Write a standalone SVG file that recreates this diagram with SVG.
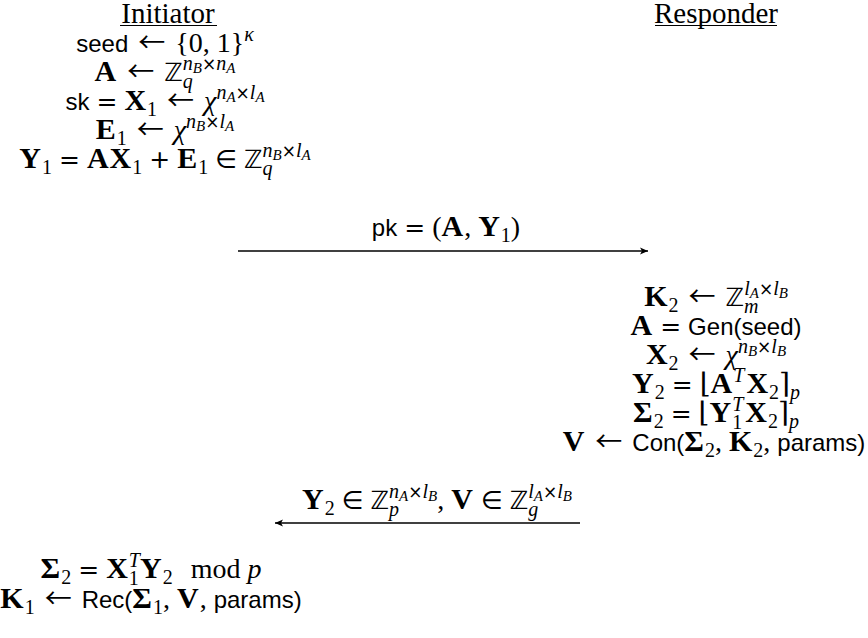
<svg xmlns="http://www.w3.org/2000/svg" width="868" height="638" viewBox="0 0 868 638">
<defs>
<style>
.t{font-family:"Liberation Serif","DejaVu Serif",serif;font-size:28px;fill:#000;text-anchor:middle}
.h{font-size:29px}
.b{font-weight:bold;font-size:30px;letter-spacing:1px}
.i{font-style:italic}
.s{font-family:"Liberation Sans","DejaVu Sans",sans-serif;font-size:24px}
.o{font-family:"DejaVu Sans",sans-serif;font-size:25px}
.ar{font-family:"Noto Sans CJK SC","DejaVu Sans",sans-serif;font-size:27px;letter-spacing:3px}
.x{font-family:"DejaVu Sans",sans-serif;font-size:17px}
.sc{font-size:20px}
.ss{font-size:15px}
.ul{stroke:#000;stroke-width:1.2}
.conn{stroke:#000;stroke-width:1.3;fill:none}
</style>
<marker id="ah" markerUnits="userSpaceOnUse" markerWidth="12" markerHeight="10" viewBox="-10 -5 12 10" refX="0" refY="0" orient="auto-start-reverse">
<path d="M0,0 L-8,-3.6 L-6,0 L-8,3.6 Z" fill="#000"/>
</marker>
</defs>
<rect width="868" height="638" fill="#fff"/>

<g id="initiator-header">
<text class="t h" x="168" y="22.5">Initiator</text>
<line class="ul" x1="120" y1="25.5" x2="217" y2="25.5"/>
</g>

<g id="responder-header">
<text class="t h" x="716" y="22.5">Responder</text>
<line class="ul" x1="655" y1="25.5" x2="777" y2="25.5"/>
</g>

<g id="initiator-keygen">
<text class="t" x="165" y="52"><tspan class="s">seed</tspan> <tspan class="ar" dx="3">←</tspan> {0, 1}<tspan class="i sc" dy="-11">κ</tspan></text>
<text class="t" x="165" y="81"><tspan class="b">A</tspan> <tspan class="ar" dx="3">←</tspan> <tspan class="o">ℤ</tspan><tspan class="i sc" dy="7">q</tspan><tspan class="i sc" dx="-10" dy="-18">n</tspan><tspan class="i ss" dy="3">B</tspan><tspan class="x" dy="-3">×</tspan><tspan class="i sc">n</tspan><tspan class="i ss" dy="3">A</tspan></text>
<text class="t" x="165" y="110"><tspan class="s">sk</tspan> <tspan class="o">=</tspan> <tspan class="b">X</tspan><tspan class="sc" dy="6">1</tspan><tspan dy="-6"> </tspan><tspan class="ar" dx="3">←</tspan> <tspan class="i">χ</tspan><tspan class="i sc" dy="-11">n</tspan><tspan class="i ss" dy="3">A</tspan><tspan class="x" dy="-3">×</tspan><tspan class="i sc">l</tspan><tspan class="i ss" dy="3">A</tspan></text>
<text class="t" x="165" y="139"><tspan class="b">E</tspan><tspan class="sc" dy="6">1</tspan><tspan dy="-6"> </tspan><tspan class="ar" dx="3">←</tspan> <tspan class="i">χ</tspan><tspan class="i sc" dy="-11">n</tspan><tspan class="i ss" dy="3">B</tspan><tspan class="x" dy="-3">×</tspan><tspan class="i sc">l</tspan><tspan class="i ss" dy="3">A</tspan></text>
<text class="t" x="165" y="168"><tspan class="b">Y</tspan><tspan class="sc" dy="6">1</tspan><tspan dy="-6"> </tspan><tspan class="o">=</tspan> <tspan class="b">AX</tspan><tspan class="sc" dy="6">1</tspan><tspan dy="-6"> </tspan><tspan class="o">+</tspan> <tspan class="b">E</tspan><tspan class="sc" dy="6">1</tspan><tspan dy="-6"> </tspan><tspan class="o">∈</tspan> <tspan class="o">ℤ</tspan><tspan class="i sc" dy="7">q</tspan><tspan class="i sc" dx="-10" dy="-18">n</tspan><tspan class="i ss" dy="3">B</tspan><tspan class="x" dy="-3">×</tspan><tspan class="i sc">l</tspan><tspan class="i ss" dy="3">A</tspan></text>
</g>

<g id="msg1-label">
<text class="t" x="446" y="236"><tspan class="s">pk</tspan> <tspan class="o">=</tspan> (<tspan class="b">A</tspan>, <tspan class="b">Y</tspan><tspan class="sc" dy="6">1</tspan><tspan dy="-6">)</tspan></text>
</g>

<g id="responder-compute">
<text class="t" x="716" y="306"><tspan class="b">K</tspan><tspan class="sc" dy="6">2</tspan><tspan dy="-6"> </tspan><tspan class="ar" dx="3">←</tspan> <tspan class="o">ℤ</tspan><tspan class="i sc" dy="7">m</tspan><tspan class="i sc" dx="-14.4" dy="-18">l</tspan><tspan class="i ss" dy="3">A</tspan><tspan class="x" dy="-3">×</tspan><tspan class="i sc">l</tspan><tspan class="i ss" dy="3">B</tspan></text>
<text class="t" x="716" y="335"><tspan class="b">A</tspan> <tspan class="o">=</tspan> <tspan class="s">Gen(seed)</tspan></text>
<text class="t" x="716" y="364"><tspan class="b">X</tspan><tspan class="sc" dy="6">2</tspan><tspan dy="-6"> </tspan><tspan class="ar" dx="3">←</tspan> <tspan class="i">χ</tspan><tspan class="i sc" dy="-11">n</tspan><tspan class="i ss" dy="3">B</tspan><tspan class="x" dy="-3">×</tspan><tspan class="i sc">l</tspan><tspan class="i ss" dy="3">B</tspan></text>
<text class="t" x="716" y="393"><tspan class="b">Y</tspan><tspan class="sc" dy="6">2</tspan><tspan dy="-6"> </tspan><tspan class="o">=</tspan> ⌊<tspan class="b">A</tspan><tspan class="i sc" dy="-11">T</tspan><tspan class="b" dx="2" dy="11">X</tspan><tspan class="sc" dy="6">2</tspan><tspan dy="-6">⌉</tspan><tspan class="i sc" dy="6">p</tspan></text>
<text class="t" x="716" y="422"><tspan class="b">Σ</tspan><tspan class="sc" dy="6">2</tspan><tspan dy="-6"> </tspan><tspan class="o">=</tspan> ⌊<tspan class="b">Y</tspan><tspan class="sc" dy="7">1</tspan><tspan class="i sc" dx="-10" dy="-18">T</tspan><tspan class="b" dx="2" dy="11">X</tspan><tspan class="sc" dy="6">2</tspan><tspan dy="-6">⌉</tspan><tspan class="i sc" dy="6">p</tspan></text>
<text class="t" x="714" y="451"><tspan class="b">V</tspan> <tspan class="ar" dx="3">←</tspan> <tspan class="s">Con(</tspan><tspan class="b">Σ</tspan><tspan class="sc" dy="6">2</tspan><tspan dy="-6">, </tspan><tspan class="b">K</tspan><tspan class="sc" dy="6">2</tspan><tspan dy="-6">, </tspan><tspan class="s">params)</tspan></text>
</g>

<g id="msg2-label">
<text class="t" x="437" y="509"><tspan class="b">Y</tspan><tspan class="sc" dy="6">2</tspan><tspan dy="-6"> </tspan><tspan class="o">∈</tspan> <tspan class="o">ℤ</tspan><tspan class="i sc" dy="7">p</tspan><tspan class="i sc" dx="-10" dy="-18">n</tspan><tspan class="i ss" dy="3">A</tspan><tspan class="x" dy="-3">×</tspan><tspan class="i sc">l</tspan><tspan class="i ss" dy="3">B</tspan><tspan dy="8">, </tspan><tspan class="b">V</tspan> <tspan class="o">∈</tspan> <tspan class="o">ℤ</tspan><tspan class="i sc" dy="7">g</tspan><tspan class="i sc" dx="-10" dy="-18">l</tspan><tspan class="i ss" dy="3">A</tspan><tspan class="x" dy="-3">×</tspan><tspan class="i sc">l</tspan><tspan class="i ss" dy="3">B</tspan></text>
</g>

<g id="initiator-final">
<text class="t" x="151" y="578"><tspan class="b">Σ</tspan><tspan class="sc" dy="6">2</tspan><tspan dy="-6"> </tspan><tspan class="o">=</tspan> <tspan class="b">X</tspan><tspan class="sc" dy="7">1</tspan><tspan class="i sc" dx="-10" dy="-18">T</tspan><tspan class="b" dy="11">Y</tspan><tspan class="sc" dy="6">2</tspan><tspan dy="-6" dx="18">mod </tspan><tspan class="i">p</tspan></text>
<text class="t" x="151" y="608"><tspan class="b">K</tspan><tspan class="sc" dy="6">1</tspan><tspan dy="-6"> </tspan><tspan class="ar" dx="3">←</tspan> <tspan class="s">Rec(</tspan><tspan class="b">Σ</tspan><tspan class="sc" dy="6">1</tspan><tspan dy="-6">, </tspan><tspan class="b">V</tspan>, <tspan class="s">params)</tspan></text>
</g>

<g id="connectors">
<line class="conn" x1="238" y1="251" x2="648" y2="251" marker-end="url(#ah)"/>
<line class="conn" x1="580" y1="523" x2="275" y2="523" marker-end="url(#ah)"/>
</g>
</svg>
